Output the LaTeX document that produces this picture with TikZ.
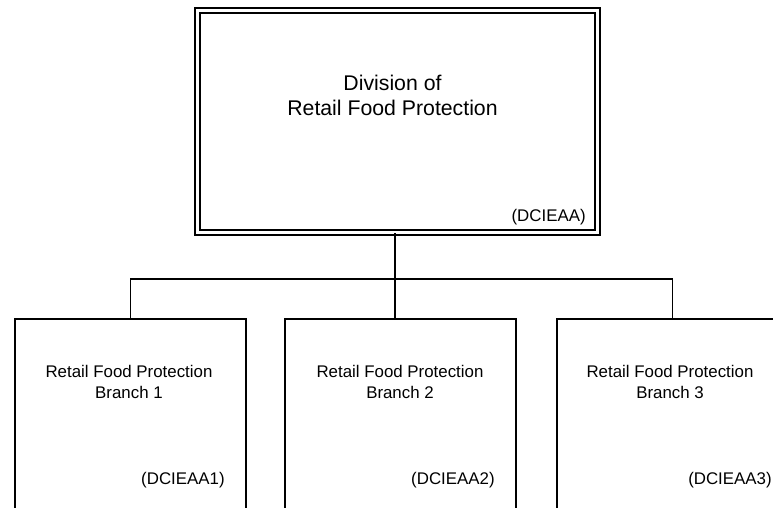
\documentclass[tikz,border=0pt]{standalone}
\usepackage{fontspec}
\setmainfont{Liberation Sans}
\tikzset{
  division/.style={draw, double, line width=1.1pt, double distance=1.7pt, inner sep=0pt,
    minimum width=8cm, minimum height=4.44cm},
  branch/.style={draw, line width=1.1pt, inner sep=0pt, minimum width=4.62cm, minimum height=4.42cm},
  wire/.style={line width=1.1pt},
  title/.style={align=center, inner sep=0pt, font=\fontsize{12.1pt}{14.2pt}\selectfont},
  subtitle/.style={align=center, inner sep=0pt, font=\fontsize{9.6pt}{11.9pt}\selectfont},
  code/.style={anchor=east, inner sep=0pt, font=\fontsize{9.6pt}{11.9pt}\selectfont}
}
\begin{document}
\begin{tikzpicture}[x=0.02cm, y=-0.02cm]
    \useasboundingbox (0,0) rectangle (773,507);
    \clip (0,0) rectangle (773,507);
    % Division
    \node[division] (div) at (397.5,121.5) {};
    \node[title] (divname) at (392.5,95.5) {Division of\\Retail Food Protection};
    \node[code] (divcode) at (586,217) {(DCIEAA)};
    % Branches
    \node[branch] (b1) at (130.5,429.5) {};
    \node[branch] (b2) at (400.5,429.5) {};
    \node[branch] (b3) at (672.5,429.5) {};
    \node[subtitle] (b1name) at (129,382) {Retail Food Protection\\Branch 1};
    \node[subtitle] (b2name) at (400,382) {Retail Food Protection\\Branch 2};
    \node[subtitle] (b3name) at (670,382) {Retail Food Protection\\Branch 3};
    \node[code] (b1code) at (225,480) {(DCIEAA1)};
    \node[code] (b2code) at (495,480) {(DCIEAA2)};
    \node[code] (b3code) at (772,480) {(DCIEAA3)};
    % Connectors
    \coordinate (bus) at (395,279);
    \draw[wire] (div.south) ++(-2.5,0) coordinate (drop) -- (drop |- b2.north);
    \draw[wire] (b1.north) |- (bus) -| (b3.north);
\end{tikzpicture}
\end{document}
